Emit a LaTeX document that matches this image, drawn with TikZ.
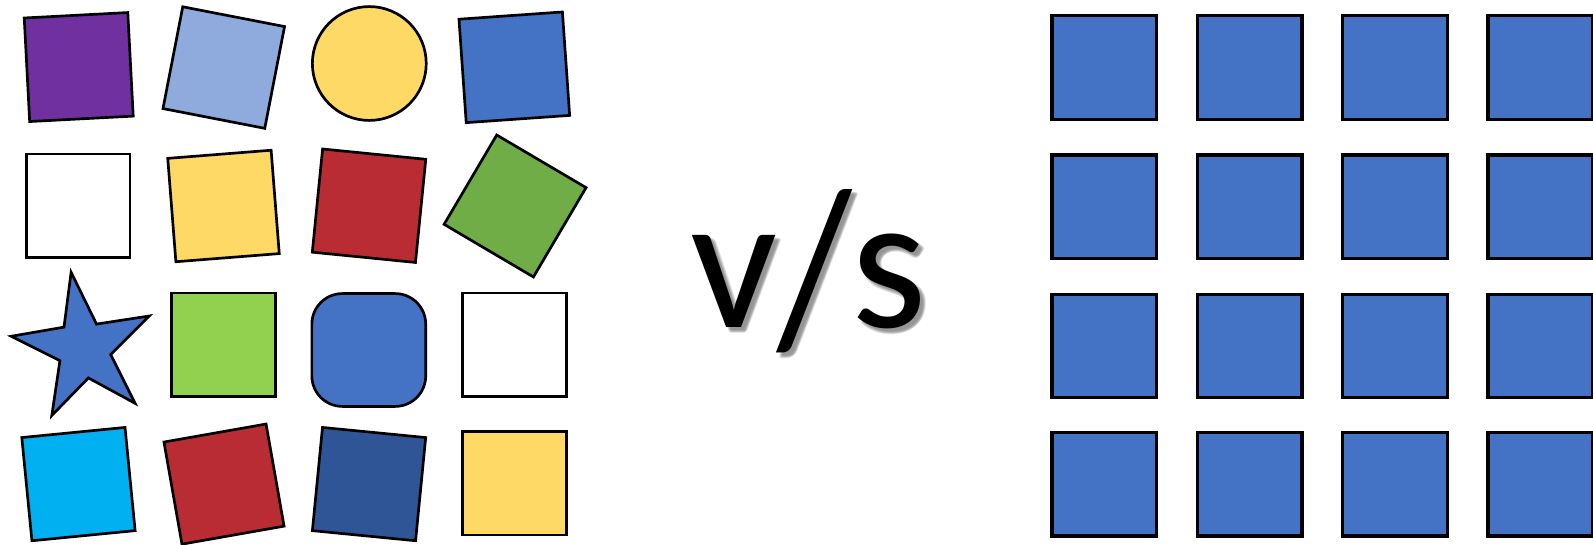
\documentclass[tikz,border=0pt]{standalone}
\usepackage{fontspec}
\usepackage{graphicx}
\setmainfont{Carlito}
\definecolor{cpurple}{HTML}{7030A0}
\definecolor{clblue}{HTML}{8FAADC}
\definecolor{cyellow}{HTML}{FFD966}
\definecolor{cblue}{HTML}{4472C4}
\definecolor{cred}{HTML}{BA2C34}
\definecolor{cgreen}{HTML}{70AD47}
\definecolor{clgreen}{HTML}{92D050}
\definecolor{ccyan}{HTML}{00B0F0}
\definecolor{cdblue}{HTML}{2F5597}
\newcommand{\vstext}{v\raisebox{-4.6pt}{\scalebox{1}[1.15]{/}}s}
\tikzset{
  shp/.style={draw=black, line width=0.75pt},
  sq/.style={shp, rectangle, minimum size=1.02cm, inner sep=0pt},
  gridsq/.style={draw=black, line width=0.9pt, rectangle, inner sep=0pt, fill=cblue, anchor=north west, minimum width=1.03cm, minimum height=1.02cm},
  vsfont/.style={anchor=base, font=\fontsize{54}{60}\selectfont, inner sep=0pt},
  vsshade/.style={vsfont, text=black!55, opacity=0.18},
}
\begin{document}
\begin{tikzpicture}[x=0.01cm, y=-0.01cm]
\useasboundingbox (0,0) rectangle (1568,536);
% left side, row 1
\node[sq, fill=cpurple, rotate=3] (p11) at (77.5,66) {};
\node[sq, fill=clblue, rotate=-11] (p12) at (220.25,66.5) {};
\node[shp, circle, fill=cyellow, minimum size=1.12cm, inner sep=0pt] (p13) at (363.5,62.5) {};
\node[sq, fill=cblue, rotate=4] (p14) at (506.25,66.25) {};
% row 2
\node[sq, fill=white] (p21) at (77,202.5) {};
\node[sq, fill=cyellow, rotate=4.5] (p22) at (220,202.75) {};
\node[sq, fill=cred, rotate=-5.7] (p23) at (363.25,202.5) {};
\node[sq, fill=cgreen, rotate=-30.5] (p24) at (507,202.75) {};
% row 3
\draw[shp, fill=cblue] (70,268) -- (95,319) -- (147,311) -- (109,349) -- (133,397)
  -- (87,372) -- (51,409) -- (59,355) -- (11,331) -- (63,322) -- cycle;
\node[sq, fill=clgreen] (p32) at (220,339.5) {};
\node[shp, rectangle, rounded corners=0.3cm, fill=cblue, minimum width=1.12cm, minimum height=1.11cm, inner sep=0pt] (p33) at (363,344.5) {};
\node[sq, fill=white] (p34) at (506.5,339.5) {};
% row 4
\node[sq, fill=ccyan, rotate=5.6] (p41) at (77.25,476.5) {};
\node[sq, fill=cred, rotate=10] (p42) at (220.5,476.5) {};
\node[sq, fill=cdblue, rotate=-5.6] (p43) at (363.25,476.5) {};
\node[sq, fill=cyellow] (p44) at (506.5,475.5) {};
% v/s with soft shadow
\foreach \dx/\dy [count=\k] in {3/3,5/5,4/6,6/4,5/3,3/5,4/4}{
  \node[vsshade] (vsshadow\k) at (796+\dx,322+\dy) {\vstext};
}
\node[vsfont] (vs) at (796,322) {\vstext};
% right grid
\foreach \i/\x in {1/1034,2/1177,3/1320,4/1463}{
  \foreach \j/\y in {1/14,2/151,3/288,4/424}{
    \node[gridsq] (g\j\i) at (\x,\y) {};
  }
}
\end{tikzpicture}
\end{document}
